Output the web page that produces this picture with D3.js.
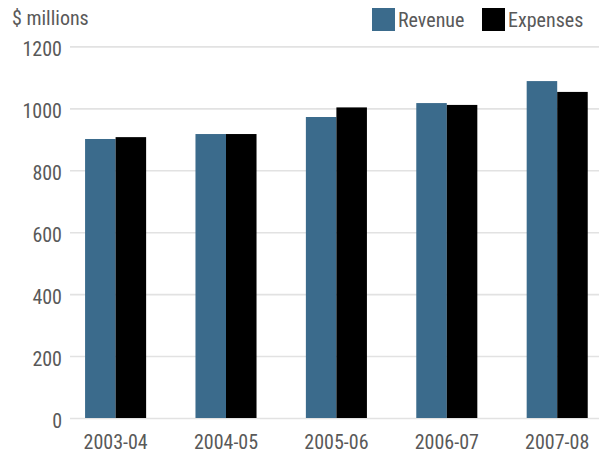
<!DOCTYPE html>
<html>
<head>
<meta charset="utf-8">
<script src="https://cdn.jsdelivr.net/npm/d3@7"></script>
<style>
  body { margin: 0; background: #fff; }
  text { font-family: "Liberation Sans Narrow", "Arial Narrow", "Roboto Condensed", sans-serif; fill: #595959; }
</style>
</head>
<body>
<div id="chart"></div>
<script>
const years = ["2003-04", "2004-05", "2005-06", "2006-07", "2007-08"];
const series = ["Revenue", "Expenses"];
const revenue = [901, 917, 972, 1017, 1088];
const expenses = [907, 917, 1003, 1011, 1053];
const yTicks = [0, 200, 400, 600, 800, 1000, 1200];
const colors = ["#3b6b8c", "#000000"];

const width = 599, height = 455;

const svg = d3.select("#chart").append("svg")
  .attr("width", width)
  .attr("height", height);

// scales
const x = d3.scaleBand()
  .domain(years)
  .range([60.4, 612.4])
  .paddingInner(0.447)
  .paddingOuter(0.2235);

const xInner = d3.scaleBand()
  .domain(series)
  .range([0, x.bandwidth()]);

const y = d3.scaleLinear()
  .domain([0, 1200])
  .range([418, 46.4]);

// gridlines + y labels
const yAxis = svg.append("g")
  .call(d3.axisLeft(y).tickValues(yTicks).tickSize(0).tickPadding(0).tickFormat(d3.format("d")));
yAxis.select(".domain").remove();
yAxis.selectAll(".tick line")
  .attr("x1", 70).attr("x2", width)
  .attr("stroke", "#e2e2e2")
  .attr("stroke-width", 1.6);
yAxis.selectAll(".tick text")
  .attr("x", 62)
  .attr("dy", "0.45em")
  .attr("font-size", 20)
  .style("fill", "#595959");

// bars
const data = years.map((yr, i) => ({ year: yr, values: [revenue[i], expenses[i]] }));

const groups = svg.selectAll("g.group")
  .data(data)
  .enter().append("g")
  .attr("class", "group")
  .attr("transform", d => `translate(${x(d.year)},0)`);

groups.selectAll("rect")
  .data(d => d.values.map((v, j) => ({ key: series[j], value: v, j: j })))
  .enter().append("rect")
  .attr("x", d => xInner(d.key))
  .attr("width", xInner.bandwidth())
  .attr("y", d => y(d.value))
  .attr("height", d => y(0) - y(d.value))
  .attr("fill", d => colors[d.j]);

// x labels
const xAxis = svg.append("g")
  .attr("transform", "translate(0,418)")
  .call(d3.axisBottom(x).tickSize(0).tickPadding(0));
xAxis.select(".domain").remove();
xAxis.selectAll(".tick text")
  .attr("y", 31)
  .attr("dy", 0)
  .attr("font-size", 20)
  .style("fill", "#595959");

// unit label
svg.append("text")
  .attr("x", 12)
  .attr("y", 25)
  .attr("font-size", 20)
  .text("$ millions");

// legend
const legendX = [372, 482];
const legend = svg.selectAll("g.legend")
  .data(series)
  .enter().append("g")
  .attr("class", "legend")
  .attr("transform", (d, i) => `translate(${legendX[i]},8)`);
legend.append("rect")
  .attr("width", 23).attr("height", 23)
  .attr("fill", (d, i) => colors[i]);
legend.append("text")
  .attr("x", 26)
  .attr("y", 19)
  .attr("font-size", 20)
  .text(d => d);
</script>
</body>
</html>
